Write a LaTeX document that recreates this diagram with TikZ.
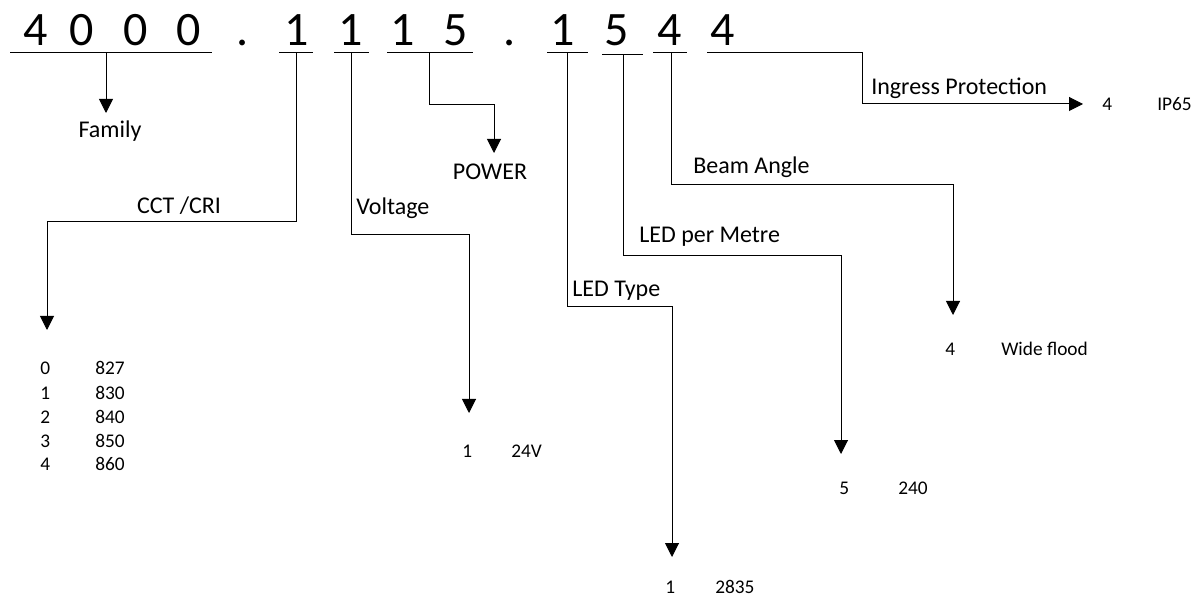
\documentclass[tikz,border=0pt]{standalone}
\usepackage{fontspec}
\setmainfont{Carlito}
\usetikzlibrary{arrows.meta}

\begin{document}
\begin{tikzpicture}[x=0.75pt,y=-0.75pt,
    digit/.style={font=\fontsize{36}{40}\selectfont,anchor=base,inner sep=0pt},
    lab/.style={font=\fontsize{18}{20}\selectfont,anchor=base west,inner sep=0pt},
    val/.style={font=\fontsize{14.5}{16}\selectfont,anchor=base west,inner sep=0pt},
    bar/.style={line width=0.75pt},
    link/.style={line width=0.75pt,-{Triangle[width=10.5pt,length=10.5pt]}}]
\useasboundingbox (0,0) rectangle (1192,598);
% code digits
\foreach \d/\x [count=\i] in {4/36,0/82,0/136,0/189,./243,1/297,1/351,1/403,5/456,./510,1/563,5/617,4/670,4/723}
  \node[digit] (d\i) at (\x,46) {\d};
% underlines
\draw[bar] (10,53) -- (212,53);
\draw[bar] (279,53) -- (313,53);
\draw[bar] (334,53) -- (369,53);
\draw[bar] (387,53) -- (473,53);
\draw[bar] (547,53) -- (588,53);
\draw[bar] (602,55) -- (643,55);
\draw[bar] (653,53) -- (687,53);
% start points on the underlines
\coordinate (fam) at (106,53);
\coordinate (cct) at (296,53);
\coordinate (volt) at (351,53);
\coordinate (pow) at (429,53);
\coordinate (type) at (567,53);
\coordinate (perm) at (623,55);
\coordinate (beam) at (671,53);
\coordinate (ingr) at (707,53);
% arrow ends
\coordinate (famT) at (106,113);
\coordinate (cctT) at (47,330);
\coordinate (voltT) at (469,413);
\coordinate (powT) at (494,153);
\coordinate (typeT) at (672,557);
\coordinate (permT) at (841,454);
\coordinate (beamT) at (953,315);
\coordinate (ingrT) at (1083,104);
% connectors
\draw[link] (fam) -- (famT);
\draw[link] (cct) -- (296,222) -| (cctT);
\draw[link] (volt) -- (351,235) -| (voltT);
\draw[link] (pow) -- (429,105) -| (powT);
\draw[link] (type) -- (567,307) -| (typeT);
\draw[link] (perm) -- (623,256) -| (permT);
\draw[link] (beam) -- (671,185) -| (beamT);
\draw[link] (ingr) -- (862,53) -- (862,104) -- (ingrT);
% field names
\node[lab,anchor=base] (family) at (110,138) {Family};
\node[lab,anchor=base] (power) at (490,180) {POWER};
\node[lab,anchor=base] (cctcri) at (179,214) {CCT /CRI};
\node[lab] (voltage) at (356,215) {Voltage};
\node[lab] (ledtype) at (572,297) {LED Type};
\node[lab] (ledpm) at (639,243) {LED per Metre};
\node[lab] (beamangle) at (693,174) {Beam Angle};
\node[lab] (ingress) at (871,95) {Ingress Protection};
% values
\foreach \k/\v/\y in {0/827/375,1/830/399,2/840/423,3/850/447,4/860/470} {
  \node[val] (c\k) at (40,\y) {\k};
  \node[val] (cv\k) at (95,\y) {\v};
}
\node[val] (v1) at (462,457) {1};
\node[val] (v1b) at (511,457) {24V};
\node[val] (t1) at (665,593) {1};
\node[val] (t1b) at (715,593) {2835};
\node[val] (p5) at (839,494) {5};
\node[val] (p5b) at (898,494) {240};
\node[val] (b4) at (945,356) {4};
\node[val] (b4b) at (1001,356) {Wide flood};
\node[val] (i4) at (1102,111) {4};
\node[val] (i4b) at (1157,111) {IP65};
\end{tikzpicture}
\end{document}
